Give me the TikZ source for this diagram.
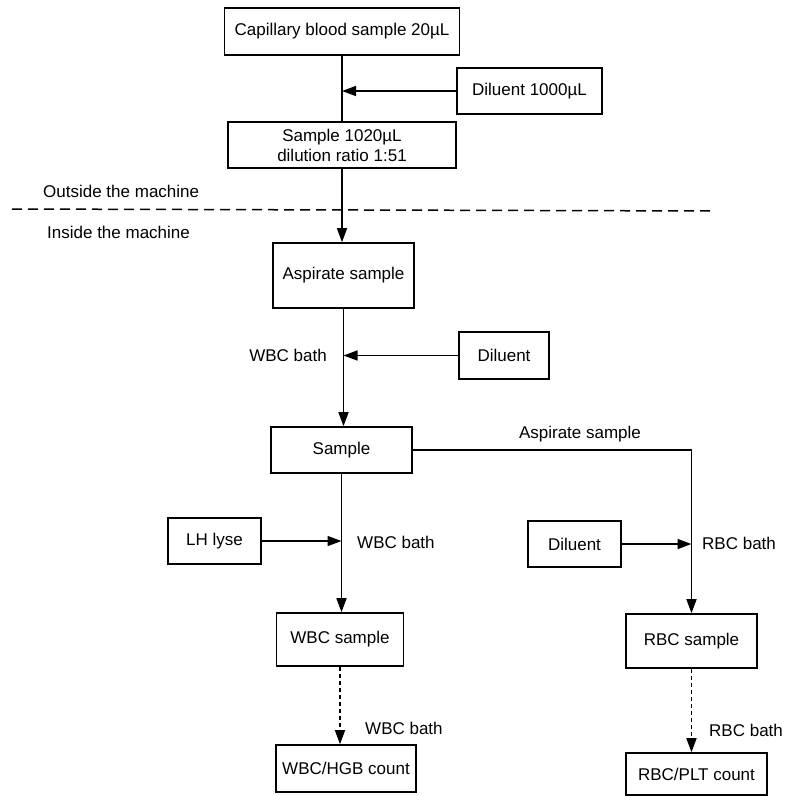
\documentclass[tikz,border=0pt]{standalone}
\usepackage{fontspec}
\setmainfont{Liberation Sans}
\usetikzlibrary{arrows.meta}
\begin{document}
\begin{tikzpicture}[x=1pt,y=-1pt,
  every node/.style={font=\fontsize{17}{20}\selectfont, inner sep=0pt},
  box/.style={draw, line width=1.6pt, align=center},
  conn/.style={line width=1.5pt},
  arr/.style={conn, -{Triangle[length=14pt,width=10pt]}},
  darr/.style={arr, dash pattern=on 4pt off 3pt},
  lbl/.style={anchor=west}
]
\useasboundingbox (0,0) rectangle (787,796);
% boxes
\node[box, minimum width=235pt, minimum height=47pt] (cap) at (342,31.5) {Capillary blood sample 20µL};
\node[box, minimum width=145pt, minimum height=46pt] (dil1) at (529.5,91) {Diluent 1000µL};
\node[box, minimum width=228pt, minimum height=46pt] (s1020) at (342,145) {Sample 1020µL\\dilution ratio 1:51};
\node[box, minimum width=141pt, minimum height=65pt] (asp) at (343.5,275.5) {Aspirate sample};
\node[box, minimum width=90pt, minimum height=47pt] (dil2) at (504,355.5) {Diluent};
\node[box, minimum width=141pt, minimum height=46pt] (samp) at (341.5,450) {Sample};
\node[box, minimum width=93pt, minimum height=46pt] (lh) at (214.5,541) {LH lyse};
\node[box, minimum width=93pt, minimum height=46pt] (dil3) at (574.5,544) {Diluent};
\node[box, minimum width=127pt, minimum height=53pt] (wbcs) at (340,639.5) {WBC sample};
\node[box, minimum width=131pt, minimum height=54pt] (rbcs) at (691.5,641) {RBC sample};
\node[box, minimum width=140pt, minimum height=47pt] (wbch) at (346,768.5) {WBC/HGB count};
\node[box, minimum width=141pt, minimum height=42pt] (rbcp) at (696.5,774) {RBC/PLT count};
% separator
\coordinate (dl) at (12,209);
\coordinate (dr) at (715,211);
\draw[line width=1.5pt, dash pattern=on 10pt off 6pt] (dl) -- (dr);
\node[lbl] (out) at (43,191) {Outside the machine};
\node[lbl] (ins) at (47,232) {Inside the machine};
% connectors
\draw[conn] (cap.south) -- (s1020.north);
\draw[arr] (dil1.west) -- (dil1.west -| cap.south);
\draw[arr] (s1020.south) -- (s1020.south |- asp.north);
\draw[arr] (asp.south) -- (asp.south |- samp.north);
\draw[arr] (dil2.west) -- (dil2.west -| asp.south);
\node[anchor=east] (wb1) at (327,355) {WBC bath};
\draw[arr] (samp.east) -| (rbcs.north);
\node (aspl) at (580,434) {Aspirate sample};
\draw[arr] (samp.south) -- (samp.south |- wbcs.north);
\draw[arr] (lh.east) -- (lh.east -| samp.south);
\node[lbl] (wb2) at (357,542) {WBC bath};
\draw[arr] (dil3.east) -- (dil3.east -| rbcs.north);
\node[lbl] (rb1) at (702,543) {RBC bath};
\draw[darr] (wbcs.south) -- (wbcs.south |- wbch.north);
\node[lbl] (wb3) at (365,728) {WBC bath};
\draw[darr] (rbcs.south) -- (rbcs.south |- rbcp.north);
\node[lbl] (rb2) at (709,730) {RBC bath};
\end{tikzpicture}
\end{document}
